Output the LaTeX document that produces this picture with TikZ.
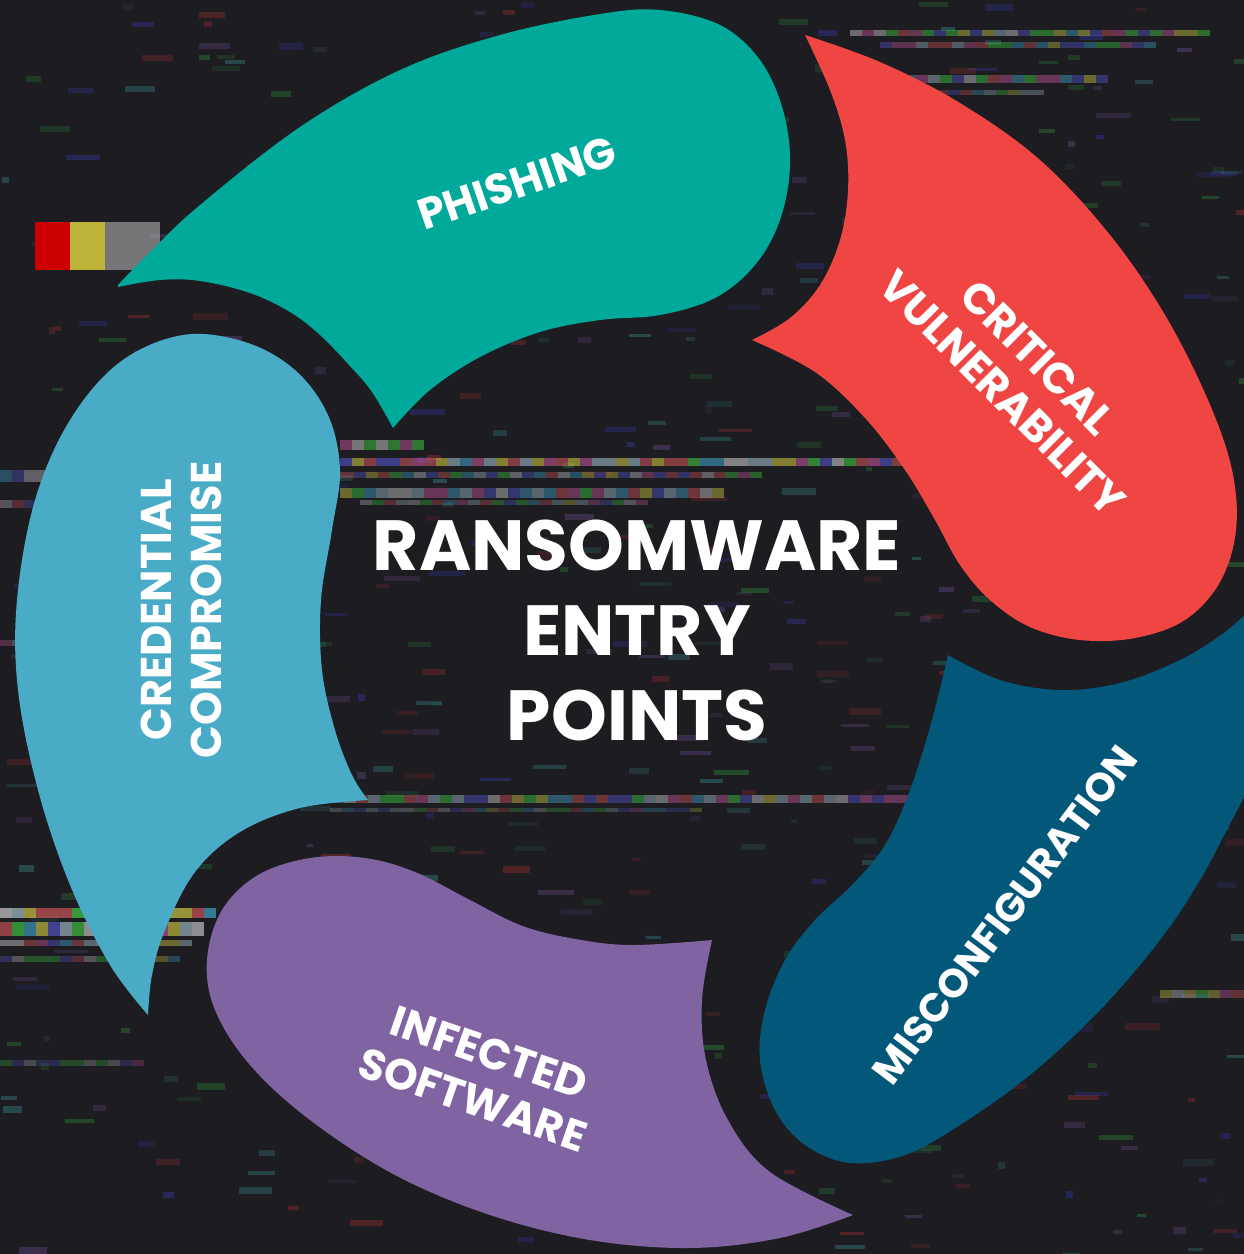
\documentclass[tikz,border=0pt]{standalone}
\usepackage{fontspec}
\setmainfont{Poppins}
\definecolor{bgc}{HTML}{1C1C21}
\definecolor{teal}{HTML}{00A99A}
\definecolor{redc}{HTML}{EF4644}
\definecolor{navy}{HTML}{03587A}
\definecolor{purp}{HTML}{8064A2}
\definecolor{lblue}{HTML}{4AABC6}
\definecolor{glitch0}{HTML}{2E8B3A}
\definecolor{glitch1}{HTML}{3A3AB0}
\definecolor{glitch2}{HTML}{A03030}
\definecolor{glitch3}{HTML}{6A4A8A}
\definecolor{glitch4}{HTML}{3A8A8A}
\tikzset{
  lbl/.style={text=white, font=\bfseries\fontsize{43}{50}\selectfont, align=center, inner sep=0pt},
  ttl/.style={text=white, font=\bfseries\fontsize{71}{85}\selectfont, align=center, inner sep=0pt},
  blob/.style={line join=round}
}
\pgfmathdeclarerandomlist{bright}{{white}{cyan!70}{green!70}{magenta!60}{blue!60}{yellow!70}{red!60}{white!80!cyan}}
\begin{document}
\begin{tikzpicture}[x=1pt,y=-1pt]
\useasboundingbox (0,0) rectangle (1244,1254);
\fill[bgc] (0,0) rectangle (1244,1254);
% glitch texture
\pgfmathsetseed{11}
\foreach \i in {1,...,520} {
  \pgfmathsetmacro{\xa}{rnd*1244}
  \pgfmathsetmacro{\ya}{rnd*1254}
  \pgfmathsetmacro{\w}{6+rnd*30}
  \pgfmathsetmacro{\h}{3+rnd*4}
  \pgfmathtruncatemacro{\c}{rnd*4.99}
  \pgfmathsetmacro{\op}{0.12+rnd*0.3}
  \fill[glitch\c, opacity=\op] (\xa,\ya) rectangle ++(\w,\h);
}
% bright glitch streaks: y / height / x-start / x-end / opacity
\foreach \yy/\hh/\xa/\xb/\op in {
   458/8/340/900/0.45, 472/6/330/760/0.3, 488/10/340/720/0.35, 500/5/360/640/0.25,
   795/8/320/900/0.35, 808/4/330/700/0.2,
   908/10/0/210/0.55, 922/14/0/200/0.5, 940/6/0/190/0.35, 956/6/0/170/0.25,
   30/6/850/1200/0.35, 42/6/880/1150/0.3, 75/8/880/1100/0.35, 90/5/900/1040/0.25,
   765/12/1190/1244/0.45, 785/10/1180/1244/0.4, 990/8/1160/1244/0.3,
   470/12/0/40/0.3, 500/8/0/30/0.25, 640/6/0/20/0.25, 440/10/340/420/0.4, 1060/6/0/140/0.2} {
  \pgfmathtruncatemacro{\n}{(\xb-\xa)/12}
  \foreach \k in {0,...,\n} {
    \pgfmathrandomitem{\col}{bright}
    \pgfmathsetmacro{\xx}{\xa+12*\k}
    \fill[\col, opacity=\op] (\xx,\yy) rectangle ++(12,\hh);
  }
}
\fill[red!80!black] (35,222) rectangle (70,270);
\fill[yellow!70!black] (70,222) rectangle (105,270);
\fill[gray!60, opacity=0.6] (105,222) rectangle (160,270);

% PHISHING (teal)
\fill[teal, blob] plot[smooth, tension=0.6] coordinates {(118,285) (150,252) (200,205) (300,127) (400,70) (500,35) (600,14) (660,10) (720,25) (760,60) (783,110) (790,165) (780,220) (755,265) (715,298) (660,315) (600,320) (540,332) (480,357) (430,390) (393,428)}
  -- plot[smooth, tension=0.6] coordinates {(393,428) (372,392) (350,366) (320,335) (290,312) (250,293) (200,281) (160,280) (118,287)} -- cycle;

% CRITICAL VULNERABILITY (red)
\fill[redc, blob] plot[smooth, tension=0.6] coordinates {(805,35) (880,62) (960,103) (1040,160) (1110,235) (1165,315) (1208,400) (1232,470) (1236,530) (1220,582) (1185,620) (1135,638) (1080,640) (1030,627) (990,600) (960,565) (935,520) (905,470) (865,418) (815,372) (752,340)}
  -- plot[smooth, tension=0.6] coordinates {(752,340) (790,318) (820,285) (840,240) (848,190) (845,140) (830,90) (805,35)} -- cycle;

% MISCONFIGURATION (navy)
\fill[navy, blob] plot[smooth, tension=0.6] coordinates {(948,655) (1000,680) (1060,690) (1120,683) (1180,660) (1225,632) (1255,605)}
  -- (1260,605) -- (1260,770)
  -- plot[smooth, tension=0.6] coordinates {(1248,790) (1232,820) (1200,880) (1160,940) (1100,1010) (1030,1075) (960,1125) (905,1155) (850,1163) (805,1145) (775,1110) (760,1060) (765,1010) (785,960) (815,920) (852,885) (885,845) (910,790) (932,720) (948,655)} -- cycle;

% INFECTED SOFTWARE (purple)
\fill[purp, blob] plot[smooth, tension=0.6] coordinates {(712,940) (702,1000) (706,1060) (728,1120) (770,1172) (853,1215)}
  -- plot[smooth, tension=0.6] coordinates {(853,1215) (780,1238) (690,1248) (590,1240) (490,1215) (395,1175) (310,1120) (250,1065) (215,1010) (207,960) (222,910) (258,875) (310,858) (365,858) (415,872) (470,900) (520,925) (570,938) (630,945) (712,940)} -- cycle;

% CREDENTIAL COMPROMISE (light blue)
\fill[lblue, blob] plot[smooth, tension=0.6] coordinates {(148,1015) (110,965) (70,885) (38,790) (18,690) (17,600) (35,500) (70,420) (120,362) (183,335) (245,342) (295,370) (328,415) (340,470) (332,530) (321,600) (322,670) (335,730) (352,775) (368,800)}
  -- plot[smooth, tension=0.6] coordinates {(368,800) (300,808) (240,832) (195,872) (165,930) (152,975) (148,1015)} -- cycle;

% labels
\node[lbl, rotate=19] (phish) at (517,183) {PHISHING};
\node[lbl, rotate=-45] (crit) at (1020,375) {CRITICAL\\VULNERABILITY};
\node[lbl, rotate=53, font=\bfseries\fontsize{40}{50}\selectfont] (misc) at (1005,915) {MISCONFIGURATION};
\node[lbl, rotate=-19] (inf) at (481,1076) {INFECTED\\SOFTWARE};
\node[lbl, rotate=90] (cred) at (181,610) {CREDENTIAL\\COMPROMISE};
\node[ttl] (title) at (637,630) {RANSOMWARE\\ENTRY\\POINTS};
\end{tikzpicture}
\end{document}
